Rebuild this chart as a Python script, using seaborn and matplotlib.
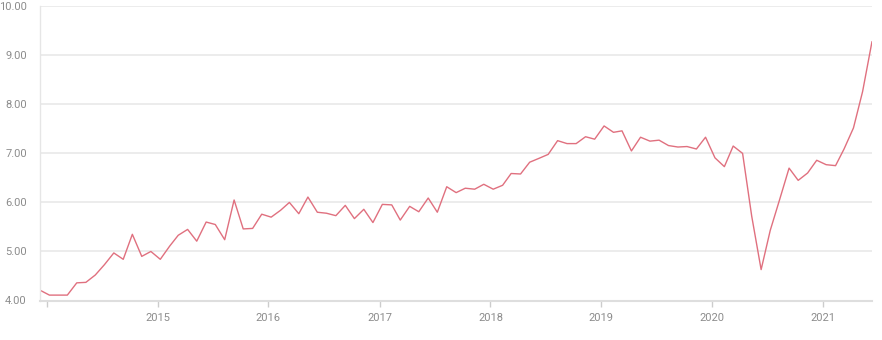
import matplotlib
matplotlib.use("Agg")
import matplotlib.pyplot as plt
import seaborn as sns
import pandas as pd
import numpy as np

start_month = "2013-12-01"
values = [
    4.21, 4.11, 4.11, 4.11, 4.36, 4.37, 4.52, 4.73, 4.97, 4.84,
    5.35, 4.90, 5.00, 4.84, 5.11, 5.33, 5.45, 5.21, 5.60, 5.55,
    5.24, 6.05, 5.46, 5.47, 5.76, 5.70, 5.84, 6.00, 5.77, 6.11,
    5.80, 5.78, 5.73, 5.94, 5.67, 5.86, 5.59, 5.96, 5.95, 5.64,
    5.92, 5.81, 6.09, 5.80, 6.32, 6.20, 6.29, 6.27, 6.37, 6.27,
    6.35, 6.59, 6.58, 6.82, 6.90, 6.98, 7.26, 7.20, 7.20, 7.34,
    7.29, 7.56, 7.43, 7.46, 7.05, 7.33, 7.25, 7.27, 7.16, 7.13,
    7.14, 7.09, 7.33, 6.91, 6.73, 7.15, 7.00, 5.72, 4.63, 5.43,
    6.06, 6.70, 6.45, 6.60, 6.86, 6.77, 6.75, 7.09, 7.52, 8.26,
    9.28,
]
year_ticks = [2014, 2015, 2016, 2017, 2018, 2019, 2020, 2021]
year_labels = ["", "2015", "2016", "2017", "2018", "2019", "2020", "2021"]
y_ticks = [4, 5, 6, 7, 8, 9, 10]

dates = pd.date_range(start_month, periods=len(values), freq="MS") + pd.Timedelta(days=9)
df = pd.DataFrame({"date": dates, "value": values})

sns.set_theme(style="white")
plt.rcParams["font.family"] = ["Roboto", "DejaVu Sans"]

fig = plt.figure(figsize=(8.82, 3.40), dpi=100)
ax = fig.add_axes([40 / 882, 39.5 / 340, 832 / 882, 294.2 / 340])

sns.lineplot(data=df, x="date", y="value", ax=ax, color="#e0707f", linewidth=1.0)

ax.set_xlim(dates[0], dates[-1])
ax.set_ylim(4, 10)
ax.set_yticks(y_ticks)
ax.set_yticklabels([f"{v:.2f}" for v in y_ticks])
ax.set_xticks([pd.Timestamp(f"{y}-01-01") for y in year_ticks])
ax.set_xticklabels(year_labels)
ax.set_xlabel("")
ax.set_ylabel("")

ax.grid(axis="y", color="#ebebeb", linewidth=1.3)
ax.grid(axis="x", visible=False)
ax.set_axisbelow(True)

for s in ["top", "right"]:
    ax.spines[s].set_visible(False)
ax.spines["left"].set_color("#e6e6e6")
ax.spines["left"].set_linewidth(1.0)
ax.spines["bottom"].set_color("#dedede")
ax.spines["bottom"].set_linewidth(1.5)

ax.tick_params(axis="x", which="major", length=4, width=1, color="#cccccc",
               labelcolor="#8c8c8c", labelsize=8, pad=5, direction="out", bottom=True)
ax.tick_params(axis="y", which="major", length=0, labelcolor="#8c8c8c",
               labelsize=8, pad=9.5, left=False)

fig.savefig("out.png", dpi=100)
